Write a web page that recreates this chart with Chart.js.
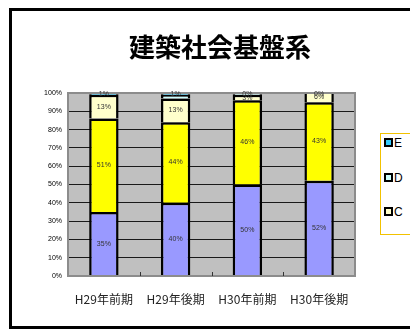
<!DOCTYPE html>
<html><head><meta charset="utf-8">
<script src="https://cdn.jsdelivr.net/npm/chart.js@4.4.0/dist/chart.umd.min.js"></script>
<style>
html,body{margin:0;padding:0;width:410px;height:332px;overflow:hidden;background:#fff;}
#frame{position:absolute;left:9px;top:8px;width:440px;height:315px;border:3px solid #000;box-sizing:content-box;}
#wrap{position:absolute;left:0;top:0;width:440px;height:332px;}
#title{position:absolute;left:0;top:28px;width:440px;text-align:center;font-family:"Noto Sans CJK JP",sans-serif;font-weight:bold;font-size:26px;line-height:36px;color:#000;}
#legend{position:absolute;left:380px;top:133px;width:60px;height:100px;border:1px solid #F2C200;background:#fff;font-family:"Liberation Sans",Arial,sans-serif;font-size:12px;color:#000;}
.item{position:absolute;left:3px;height:14px;line-height:14px;}
.sw{display:inline-block;width:5px;height:5px;border:2px solid #000;vertical-align:middle;margin-right:1px;margin-top:-2px;}
</style></head>
<body>
<div id="frame"></div>
<div id="wrap"><canvas id="c" width="440" height="332"></canvas></div>
<div id="title">建築社会基盤系</div>
<div id="legend"></div>
<script>
const categories = ['H29年前期','H29年後期','H30年前期','H30年後期'];
const seriesNames = ['A','B','C','D','E'];
const valuesA = [35, 40, 50, 52];
const valuesB = [51, 44, 46, 43];
const valuesC = [13, 13, 3, 6];
const valuesD = [0, 2, 1, 0];
const valuesE = [1, 1, 0, 0];
const yTicks = [0,10,20,30,40,50,60,70,80,90,100];
const legendShown = ['E','D','C'];

const colors = {A:'#9999FF', B:'#FFFF00', C:'#FFFFCC', D:'#CCFFFF', E:'#33CCFF'};
const allValues = {A:valuesA, B:valuesB, C:valuesC, D:valuesD, E:valuesE};

const plotBg = {
  id:'plotBg',
  beforeDraw(chart){
    const {ctx, chartArea:a} = chart;
    ctx.save();
    ctx.fillStyle = '#C0C0C0';
    ctx.fillRect(a.left, a.top, a.right-a.left, a.bottom-a.top);
    ctx.restore();
  },
  afterDatasetsDraw(chart){
    const {ctx, chartArea:a} = chart;
    ctx.save();
    ctx.strokeStyle = '#8c8c8c';
    ctx.lineWidth = 2;
    ctx.strokeRect(a.left, a.top, a.right-a.left, a.bottom-a.top);
    const xs = chart.scales.x;
    ctx.strokeStyle = '#333';
    ctx.lineWidth = 1;
    for (let i = 1; i < categories.length; i++) {
      const x = Math.round((xs.getPixelForValue(i-1) + xs.getPixelForValue(i))/2) + 0.5;
      ctx.beginPath(); ctx.moveTo(x, a.bottom); ctx.lineTo(x, a.bottom-4); ctx.stroke();
    }
    ctx.font = '7px "Liberation Sans", Arial, sans-serif';
    ctx.fillStyle = '#333';
    ctx.textAlign = 'center';
    ctx.textBaseline = 'middle';
    chart.data.datasets.forEach((ds, di) => {
      const name = seriesNames[di];
      if (name === 'D') return;
      const meta = chart.getDatasetMeta(di);
      meta.data.forEach((el, i) => {
        const v = ds.data[i];
        const y = name === 'E' ? a.top + 1 : (el.y + el.base)/2;
        ctx.fillText(v + '%', el.x, y);
      });
    });
    ctx.restore();
  }
};

const datasets = seriesNames.map(n => ({
  label: n,
  data: allValues[n],
  backgroundColor: colors[n],
  borderColor: '#000',
  borderWidth: 2.5,
  borderSkipped: 'start',
  categoryPercentage: 1.0,
  barPercentage: 0.41
}));

new Chart(document.getElementById('c'), {
  type: 'bar',
  data: { labels: categories, datasets },
  plugins: [plotBg],
  options: {
    responsive: false,
    animation: false,
    layout: { padding: { left: 0, right: 85, top: 93, bottom: 0 } },
    plugins: {
      legend: { display: false },
      tooltip: { enabled: false },
      title: { display: false }
    },
    scales: {
      x: {
        stacked: true,
        grid: { display: false },
        border: { display: false },
        ticks: { color: '#222', padding: 8, font: { family: '"Noto Sans CJK JP", sans-serif', size: 12 } },
        afterFit(s){ s.height = 56; }
      },
      y: {
        stacked: true,
        min: 0, max: 100,
        afterBuildTicks(s){ s.ticks = yTicks.map(v => ({value: v})); },
        grid: { color: '#1a1a1a', lineWidth: 1, drawTicks: false },
        border: { display: false },
        ticks: { color: '#000', padding: 6, font: { family: '"Liberation Sans", Arial, sans-serif', size: 7 }, callback: v => v + '%' },
        afterFit(s){ s.width = 68; }
      }
    }
  }
});

const lg = document.getElementById('legend');
const rowTops = [2, 37, 71];
legendShown.forEach((n, i) => {
  const d = document.createElement('div');
  d.className = 'item';
  d.style.top = rowTops[i] + 'px';
  d.innerHTML = '<span class="sw" style="background:' + colors[n] + '"></span>' + n;
  lg.appendChild(d);
});
</script>
</body></html>
